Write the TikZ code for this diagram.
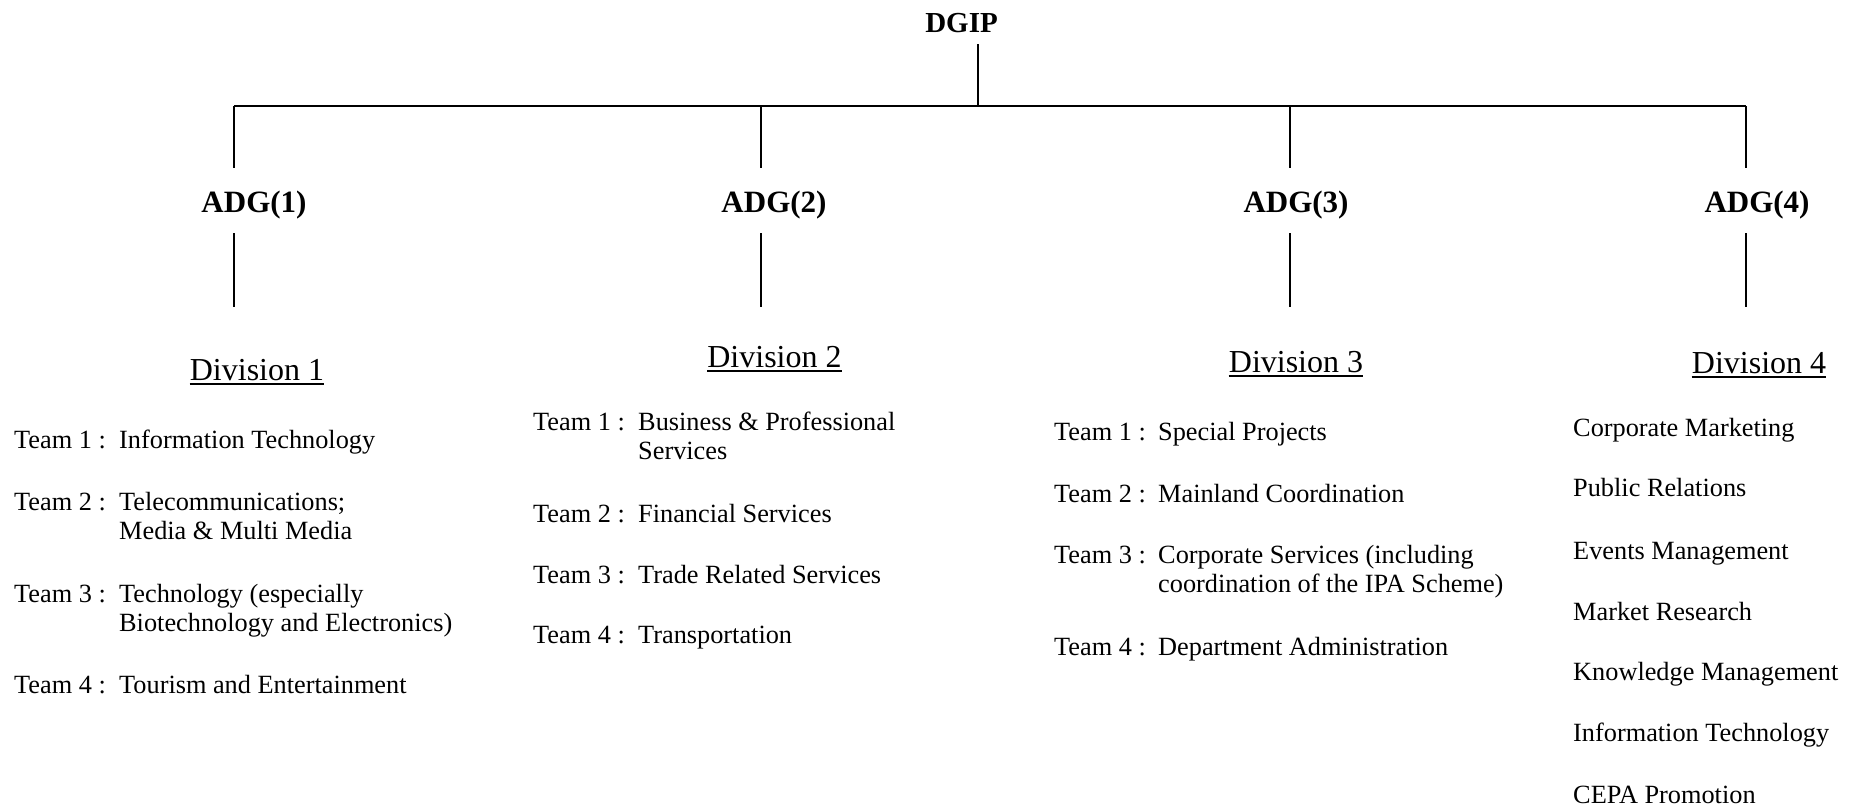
\documentclass[tikz,border=0pt]{standalone}
\usepackage{fontspec}
\setmainfont{Liberation Serif}
\begin{document}
\begin{tikzpicture}[x=1pt,y=-1pt,
  head/.style={font=\fontsize{29}{32}\selectfont\bfseries, inner sep=0, anchor=base},
  adg/.style={font=\fontsize{31}{34}\selectfont\bfseries, inner sep=0, anchor=base},
  divhead/.style={font=\fontsize{32}{36}\selectfont, inner sep=0, anchor=base},
  team/.style={font=\fontsize{26.3}{29.5}\selectfont, inner sep=0, anchor=base west, align=left},
  vline/.style={line width=1.7pt},
  bar/.style={line width=2.6pt},
  uline/.style={line width=2.2pt}]
\useasboundingbox (0,0) rectangle (1862,809);

% top
\node[head] (dgip) at (961.5,32) {DGIP};
\node[adg] (a1) at (254,212) {ADG(1)};
\node[adg] (a2) at (774,212) {ADG(2)};
\node[adg] (a3) at (1296,212) {ADG(3)};
\node[adg] (a4) at (1757,212) {ADG(4)};

% junction coordinates
\coordinate (j0) at (978,106);
\coordinate (j0t) at (978,44);
\coordinate (b1) at (234,106);
\coordinate (b2) at (761,106);
\coordinate (b3) at (1290,106);
\coordinate (b4) at (1746,106);
\coordinate (u1) at (234,168);
\coordinate (u2) at (761,168);
\coordinate (u3) at (1290,168);
\coordinate (u4) at (1746,168);
\coordinate (l1) at (234,233);
\coordinate (l2) at (761,233);
\coordinate (l3) at (1290,233);
\coordinate (l4) at (1746,233);
\coordinate (e1) at (234,307);
\coordinate (e2) at (761,307);
\coordinate (e3) at (1290,307);
\coordinate (e4) at (1746,307);

\draw[vline] (j0t) -- (j0);
\draw[bar] (b1) -- (b4);
\foreach \i in {1,2,3,4}{
  \draw[vline] (b\i) -- (u\i);
  \draw[vline] (l\i) -- (e\i);
}

% division headings
\node[divhead] (v1) at (257,380) {Division 1};
\node[divhead] (v2) at (774.5,367) {Division 2};
\node[divhead] (v3) at (1296,372) {Division 3};
\node[divhead] (v4) at (1759,373) {Division 4};
\foreach \i in {1,2,3,4}{
  \draw[uline] ([yshift=-4pt]v\i.base west) -- ([yshift=-4pt]v\i.base east);
}

% Division 1 teams (multi-line nodes are placed at the baseline of their last line)
\node[team] (t11l) at (14,448) {Team 1 :};
\node[team] (t11)  at (119,448) {Information Technology};
\node[team] (t12l) at (14,510) {Team 2 :};
\node[team] (t12)  at (119,539.5) {Telecommunications;\\Media \& Multi Media};
\node[team] (t13l) at (14,602) {Team 3 :};
\node[team] (t13)  at (119,631.5) {Technology (especially\\Biotechnology and Electronics)};
\node[team] (t14l) at (14,693) {Team 4 :};
\node[team] (t14)  at (119,693) {Tourism and Entertainment};

% Division 2 teams
\node[team] (t21l) at (533,430) {Team 1 :};
\node[team] (t21)  at (638,459.5) {Business \& Professional\\Services};
\node[team] (t22l) at (533,522) {Team 2 :};
\node[team] (t22)  at (638,522) {Financial Services};
\node[team] (t23l) at (533,583) {Team 3 :};
\node[team] (t23)  at (638,583) {Trade Related Services};
\node[team] (t24l) at (533,643) {Team 4 :};
\node[team] (t24)  at (638,643) {Transportation};

% Division 3 teams
\node[team] (t31l) at (1054,440) {Team 1 :};
\node[team] (t31)  at (1158,440) {Special Projects};
\node[team] (t32l) at (1054,502) {Team 2 :};
\node[team] (t32)  at (1158,502) {Mainland Coordination};
\node[team] (t33l) at (1054,563) {Team 3 :};
\node[team] (t33)  at (1158,592.5) {Corporate Services (including\\coordination of the IPA Scheme)};
\node[team] (t34l) at (1054,655) {Team 4 :};
\node[team] (t34)  at (1158,655) {Department Administration};

% Division 4 units
\node[team] (t41) at (1573,436.7) {Corporate Marketing};
\node[team] (t42) at (1573,496.7) {Public Relations};
\node[team] (t43) at (1573,559) {Events Management};
\node[team] (t44) at (1573,620) {Market Research};
\node[team] (t45) at (1573,680.7) {Knowledge Management};
\node[team] (t46) at (1573,741.7) {Information Technology};
\node[team] (t47) at (1573,803) {CEPA Promotion};
\end{tikzpicture}
\end{document}
